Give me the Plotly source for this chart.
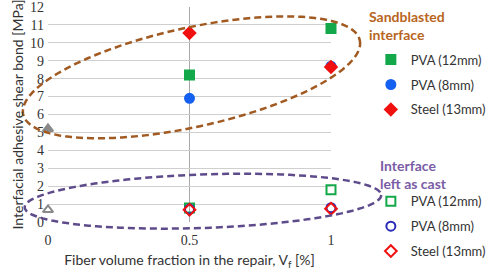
import numpy as np
import plotly.graph_objects as go

# ---- data ----
fiber = [0.5, 1.0]
plain_x = [0.0]
sb_pva12 = [8.2, 10.8]
sb_pva8 = [6.9, 8.7]
sb_steel = [10.55, 8.65]
sb_plain = [5.2]
cast_pva12 = [0.78, 1.8]
cast_pva8 = [0.72, 0.8]
cast_steel = [0.68, 0.74]
cast_plain = [0.68]
x_ticks = [0, 0.5, 1]
x_labels = ["0", "0.5", "1"]
y_ticks = list(range(0, 13))

W, H = 498, 273
L, R, T, B = 48, 166, 7, 49
PW, PH = W - L - R, H - T - B

GREEN = "#13A84A"
BLUE = "#1560F0"
RED = "#F01010"
GRAY = "#8A8A8A"
BROWN = "#B8651E"
PURPLE = "#7A5CA6"

def px2x(px):
    return (px - L) / PW

def py2y(py):
    return (T + PH - py) / PH

fig = go.Figure()

def add(x, y, name, symbol, color, legend, filled, show=True):
    fig.add_trace(go.Scatter(
        x=x, y=y, mode="markers", name=name, legend=legend, showlegend=show,
        legendgroup=legend + name,
        cliponaxis=False,
        marker=dict(symbol=symbol if filled else symbol + "-open", size=9,
                    color=color, line=dict(width=2, color=color)),
    ))

add(fiber, sb_pva12, "PVA (12mm)", "square", GREEN, "legend", True)
add(fiber, sb_pva8, "PVA (8mm)", "circle", BLUE, "legend", True)
add(fiber, sb_steel, "Steel (13mm)", "diamond", RED, "legend", True)
add(plain_x, sb_plain, "Plain", "triangle-up", GRAY, "legend", True, show=False)
add(fiber, cast_pva12, "PVA (12mm)", "square", GREEN, "legend2", False)
add(fiber, cast_pva8, "PVA (8mm)", "circle", "#2A2AB8", "legend2", False)
add(fiber, cast_steel, "Steel (13mm)", "diamond", RED, "legend2", False)
add(plain_x, cast_plain, "Plain", "triangle-up", GRAY, "legend2", False, show=False)

# ---- dashed ellipses (pixel geometry -> paper coordinates) ----
def ellipse_path(cx, cy, a, b, ang_deg, n=120):
    t = np.linspace(0, 2 * np.pi, n)
    ang = np.radians(ang_deg)
    px = cx + a * np.cos(t) * np.cos(ang) - b * np.sin(t) * np.sin(ang)
    py = cy + a * np.cos(t) * np.sin(ang) + b * np.sin(t) * np.cos(ang)
    pts = [f"{px2x(x):.4f},{py2y(y):.4f}" for x, y in zip(px, py)]
    return "M " + " L ".join(pts) + " Z"

fig.add_shape(type="path", xref="paper", yref="paper",
              path=ellipse_path(192, 78, 173, 50, -12.5),
              line=dict(color="#A05A22", width=2.5, dash="7px,4px"))
fig.add_shape(type="path", xref="paper", yref="paper",
              path=ellipse_path(203.5, 203, 179, 27, -2),
              line=dict(color="#5E4B8B", width=2.5, dash="7px,4px"))

FAM = "Lato, Open Sans, sans-serif"
fig.add_annotation(text="<b>Sandblasted<br>interface</b>", xref="paper", yref="paper",
                   x=px2x(368), y=py2y(6), xanchor="left", yanchor="top", align="left",
                   showarrow=False, font=dict(family=FAM, size=14, color=BROWN))
fig.add_annotation(text="<b>Interface<br>left as cast</b>", xref="paper", yref="paper",
                   x=px2x(379), y=py2y(156), xanchor="left", yanchor="top", align="left",
                   showarrow=False, font=dict(family=FAM, size=14, color=PURPLE))

legend_font = dict(family=FAM, size=13, color="#333333")
fig.update_layout(
    width=W, height=H,
    margin=dict(l=L, r=R, t=T, b=B),
    paper_bgcolor="white", plot_bgcolor="white",
    showlegend=True,
    legend=dict(
        x=px2x(372), y=py2y(45), xanchor="left", yanchor="top",
        font=legend_font, bgcolor="rgba(0,0,0,0)", tracegroupgap=5,
        traceorder="grouped", itemsizing="trace",
    ),
    legend2=dict(
        x=px2x(372), y=py2y(188), xanchor="left", yanchor="top",
        font=legend_font, bgcolor="rgba(0,0,0,0)", tracegroupgap=5,
        traceorder="grouped", itemsizing="trace",
    ),
    xaxis=dict(
        range=[0, 1], tickvals=x_ticks, ticktext=x_labels,
        showgrid=True, gridcolor="#A8A8A8", gridwidth=1,
        zeroline=False, showline=False, ticks="", automargin=False,
        tickfont=dict(family="Liberation Serif, serif", size=14, color="#333333"),
        ticklabelstandoff=8, ticklabeloverflow="allow",
        title=dict(text="Fiber volume fraction in the repair, V<sub>f</sub> [%]",
                   font=dict(family=FAM, size=14, color="#333333"),
                   standoff=8),
    ),
    yaxis=dict(
        range=[0, 12], tickvals=y_ticks,
        showgrid=True, gridcolor="#CFCFCF", gridwidth=1,
        zeroline=False, showline=False, ticks="", automargin=False,
        tickfont=dict(family="Liberation Serif, serif", size=14, color="#333333"),
        ticklabelstandoff=3, ticklabeloverflow="allow",
        title=dict(text="Interfacial adhesive shear bond [MPa]",
                   font=dict(family=FAM, size=14, color="#333333"),
                   standoff=3),
    ),
)

fig.write_html("out.html", config={"displayModeBar": False},
               post_script="document.body.style.margin='0px';")
